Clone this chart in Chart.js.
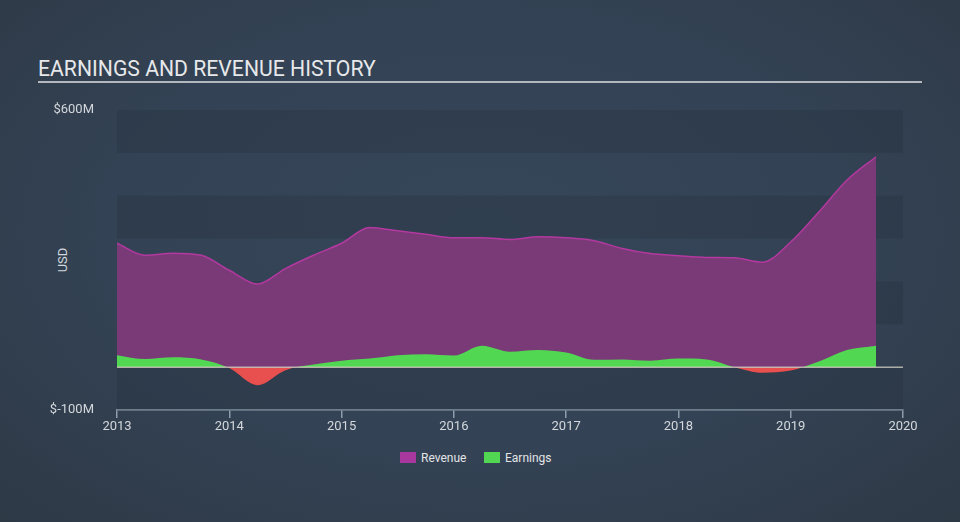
<!DOCTYPE html>
<html>
<head>
<meta charset="utf-8">
<script src="https://cdn.jsdelivr.net/npm/chart.js@4/dist/chart.umd.min.js"></script>
<style>
  html, body { margin: 0; padding: 0; }
  body {
    width: 960px; height: 522px; overflow: hidden; position: relative;
    background: radial-gradient(ellipse at 50% 45%, #36475a 0%, #334254 55%, #2e3946 100%);
    font-family: Roboto, "Noto Sans", sans-serif;
  }
  #title {
    position: absolute; left: 38px; top: 58px; font-size: 21.2px; line-height: 21px;
    color: #e6e8ea; white-space: nowrap; letter-spacing: 0;
  }
  #rule { position: absolute; left: 38px; top: 81px; width: 884px; height: 2px; background: #b3b8be; }
  #usd {
    position: absolute; left: 62px; top: 260px; font-size: 13px; color: #d4d8dc;
    transform: translate(-50%, -50%) rotate(-90deg); white-space: nowrap;
  }
  .lg { position: absolute; top: 452px; height: 11px; width: 16px; }
  .lt { position: absolute; top: 451px; font-size: 12px; line-height: 14px; color: #e2e4e6; white-space: nowrap; }
  canvas { position: absolute; left: 0; top: 0; }
</style>
</head>
<body>
<div id="title">EARNINGS AND REVENUE HISTORY</div>
<div id="rule"></div>
<div id="usd">USD</div>
<div class="lg" style="left:400px;background:#a8379e"></div>
<div class="lt" style="left:421px">Revenue</div>
<div class="lg" style="left:484px;background:#52d752"></div>
<div class="lt" style="left:505px">Earnings</div>
<canvas id="c" width="960" height="522"></canvas>
<script>
// Quarterly dates (fractional years)
const dates = [2013, 2013.25, 2013.5, 2013.75, 2014, 2014.25, 2014.5, 2014.75,
               2015, 2015.25, 2015.5, 2015.75, 2016, 2016.25, 2016.5, 2016.75,
               2017, 2017.25, 2017.5, 2017.75, 2018, 2018.25, 2018.5, 2018.75,
               2019, 2019.25, 2019.5, 2019.76];
// Revenue, USD millions
const revenue = [289, 261, 266, 261, 226, 194, 230, 261,
                 289, 326, 318, 310, 302, 302, 298, 304,
                 302, 295, 277, 265, 260, 256, 255, 245,
                 292, 362, 436, 491];
// Earnings, USD millions
const earnings = [28, 19, 23, 18, -2, -42, -7, 6,
                  15, 20, 28, 30, 27, 50, 36, 40,
                  34, 17, 18, 15, 20, 18, 0, -13,
                  -8, 13, 40, 50];
// Axis
const xMin = 2013, xMax = 2020;
const yMin = -100, yMax = 600;
const yTickValues = [-100, 600];
const bands = [[500, 600], [300, 400], [100, 200], [-100, 0]];

const toPts = arr => dates.map((d, i) => ({ x: d, y: arr[i] }));

const bgPlugin = {
  id: 'bands',
  beforeDatasetsDraw(chart) {
    const { ctx, chartArea: a, scales: { y } } = chart;
    ctx.save();
    ctx.fillStyle = 'rgba(36,46,60,0.3)';
    bands.forEach(([lo, hi]) => {
      const t = y.getPixelForValue(hi), b = y.getPixelForValue(lo);
      ctx.fillRect(a.left, t, a.right - a.left, b - t);
    });
    ctx.restore();
  },
  afterDatasetsDraw(chart) {
    const { ctx, chartArea: a, scales: { y } } = chart;
    const z = y.getPixelForValue(0);
    ctx.save();
    ctx.strokeStyle = 'rgba(215,212,200,0.75)';
    ctx.lineWidth = 1.5;
    ctx.beginPath();
    ctx.moveTo(a.left, z);
    ctx.lineTo(a.right, z);
    ctx.stroke();
    ctx.restore();
  }
};

new Chart(document.getElementById('c'), {
  type: 'line',
  data: {
    datasets: [
      {
        label: 'Earnings',
        data: toPts(earnings),
        borderWidth: 0,
        borderColor: 'rgba(0,0,0,0)',
        pointRadius: 0,
        cubicInterpolationMode: 'monotone',
        fill: { target: 'origin', above: '#52d752', below: '#e84f4f' },
        order: 1
      },
      {
        label: 'Revenue',
        data: toPts(revenue),
        borderColor: '#b3389f',
        borderWidth: 1.5,
        backgroundColor: '#7a3a77',
        pointRadius: 0,
        cubicInterpolationMode: 'monotone',
        fill: 'origin',
        order: 2
      }
    ]
  },
  options: {
    responsive: false,
    animation: false,
    devicePixelRatio: 1,
    layout: { padding: { top: 110, left: 0, right: 57, bottom: 72 } },
    plugins: { legend: { display: false }, tooltip: { enabled: false } },
    scales: {
      x: {
        type: 'linear', min: xMin, max: xMax,
        afterFit(s) { s.height = 40; },
        ticks: { stepSize: 1, color: '#d4d8dc', font: { family: 'Roboto', size: 13 }, padding: 1,
                 callback: v => String(v), maxRotation: 0 },
        grid: { drawOnChartArea: false, drawTicks: true, tickLength: 8, color: '#8e9cab', lineWidth: 1.5 },
        border: { display: true, color: '#8e9cab', width: 1.5 }
      },
      y: {
        min: yMin, max: yMax,
        afterFit(s) { s.width = 117; },
        afterBuildTicks(s) { s.ticks = yTickValues.map(v => ({ value: v })); },
        ticks: { color: '#d4d8dc', font: { family: 'Roboto', size: 13 }, padding: 15,
                 callback: v => '$' + v + 'M' },
        grid: { display: false },
        border: { display: false }
      }
    }
  },
  plugins: [bgPlugin]
});
</script>
</body>
</html>
